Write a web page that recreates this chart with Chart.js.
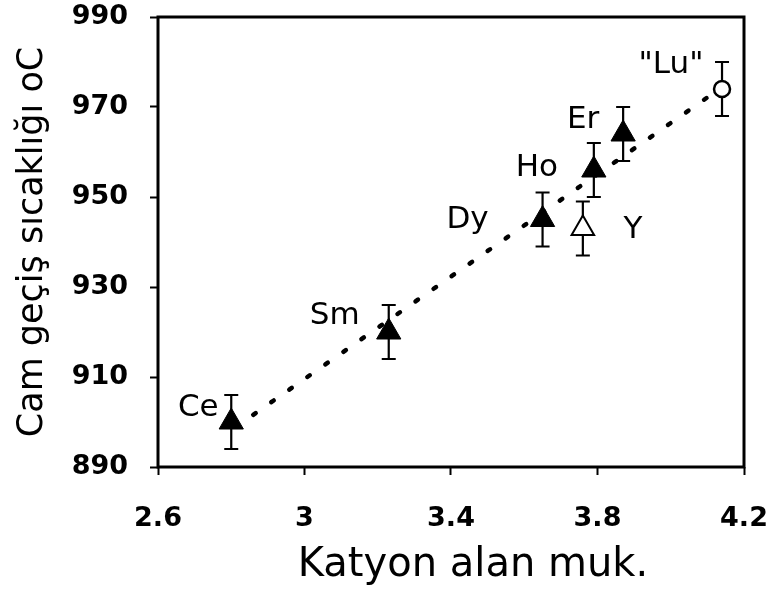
<!DOCTYPE html>
<html>
<head>
<meta charset="utf-8">
<script src="https://cdn.jsdelivr.net/npm/chart.js@4"></script>
<style>
  html, body { margin: 0; padding: 0; background: #fff; }
  #wrap { width: 776px; height: 594px; }
</style>
</head>
<body>
<div id="wrap"><canvas id="myChart"></canvas></div>
<script>
// values
const filledNames = ["Ce", "Sm", "Dy", "Ho", "Er"];
const filledX = [2.80, 3.23, 3.65, 3.79, 3.87];
const filledY = [900, 920, 945, 956, 964];
const filledErr = [6, 6, 6, 6, 6];

const openTriNames = ["Y"];
const openTriX = [3.76];
const openTriY = [943];
const openTriErr = [6];

const circleNames = ['"Lu"'];
const circleX = [4.14];
const circleY = [974];
const circleErr = [6];

const fitX = [2.86, 4.11];
const fitY = [901.6, 972.7];

const xTicks = [2.6, 3, 3.4, 3.8, 4.2];
const yTicks = [890, 910, 930, 950, 970, 990];

const xTitle = "Katyon alan muk.";
const yTitle = "Cam geçiş sıcaklığı oC";

// label placement, px from the marker
const labelOffsets = {
  "Ce": [-33, -14], "Sm": [-54, -16], "Dy": [-75, 0], "Ho": [-57, -2],
  "Er": [-40, -14], "Y": [50, 1], '"Lu"': [-51, -24]
};

const FONT = "'DejaVu Sans', sans-serif";
const toPts = (xs, ys) => xs.map((x, i) => ({ x, y: ys[i] }));

// frame, error bars, point labels, x title
const extras = {
  id: "extras",
  beforeDatasetsDraw(chart) {
    const { ctx, scales: { y } } = chart;
    ctx.save();
    ctx.strokeStyle = "#000";
    ctx.lineWidth = 2.2;
    chart.data.datasets.forEach((ds, di) => {
      if (!ds.errors) return;
      const meta = chart.getDatasetMeta(di);
      meta.data.forEach((pt, i) => {
        const v = ds.data[i].y, e = ds.errors[i];
        const top = y.getPixelForValue(v + e), bot = y.getPixelForValue(v - e);
        ctx.beginPath();
        ctx.moveTo(pt.x, top); ctx.lineTo(pt.x, bot);
        ctx.moveTo(pt.x - 7, top); ctx.lineTo(pt.x + 7, top);
        ctx.moveTo(pt.x - 7, bot); ctx.lineTo(pt.x + 7, bot);
        ctx.stroke();
      });
    });
    ctx.restore();
  },
  afterDatasetsDraw(chart) {
    const { ctx, chartArea: a } = chart;
    ctx.save();
    ctx.fillStyle = "#000";
    ctx.font = "31px " + FONT;
    ctx.textAlign = "center";
    ctx.textBaseline = "middle";
    chart.data.datasets.forEach((ds, di) => {
      if (!ds.names) return;
      const meta = chart.getDatasetMeta(di);
      meta.data.forEach((pt, i) => {
        const name = ds.names[i];
        const off = labelOffsets[name] || [0, 0];
        ctx.fillText(name, pt.x + off[0], pt.y + off[1]);
      });
    });
    ctx.strokeStyle = "#000";
    ctx.lineWidth = 3;
    ctx.strokeRect(a.left, a.top, a.right - a.left, a.bottom - a.top);

    // x title sits a bit right of the axis centre in the original
    ctx.font = "40px " + FONT;
    ctx.textBaseline = "alphabetic";
    ctx.fillText(xTitle, (a.left + a.right) / 2 + 22, 576);
    ctx.restore();
  }
};

const tickGrid = {
  display: true,
  drawOnChartArea: false,
  drawTicks: true,
  tickLength: 8,
  tickColor: "#000",
  tickWidth: 2
};

new Chart(document.getElementById("myChart"), {
  type: "scatter",
  data: {
    datasets: [
      {
        data: toPts(filledX, filledY),
        names: filledNames,
        errors: filledErr,
        pointStyle: "triangle",
        pointRadius: 14,
        backgroundColor: "#000",
        borderColor: "#000",
        borderWidth: 1,
        order: 1
      },
      {
        data: toPts(openTriX, openTriY),
        names: openTriNames,
        errors: openTriErr,
        pointStyle: "triangle",
        pointRadius: 13,
        backgroundColor: "#fff",
        borderColor: "#000",
        borderWidth: 2,
        order: 2
      },
      {
        data: toPts(circleX, circleY),
        names: circleNames,
        errors: circleErr,
        pointStyle: "circle",
        pointRadius: 8,
        backgroundColor: "#fff",
        borderColor: "#000",
        borderWidth: 2.5,
        order: 3
      },
      {
        type: "line",
        data: toPts(fitX, fitY),
        showLine: true,
        pointRadius: 0,
        borderColor: "#000",
        borderWidth: 4.5,
        borderDash: [3, 19],
        borderCapStyle: "round",
        fill: false,
        order: 4
      }
    ]
  },
  options: {
    responsive: true,
    maintainAspectRatio: false,
    animation: false,
    events: [],
    layout: { padding: { left: 0, top: 17, right: 32, bottom: 0 } },
    plugins: {
      legend: { display: false },
      tooltip: { enabled: false }
    },
    scales: {
      x: {
        type: "linear",
        min: 2.6,
        max: 4.2,
        afterBuildTicks: (s) => { s.ticks = xTicks.map(v => ({ value: v })); },
        afterFit: (s) => { s.height = 127; s.paddingLeft = 0; s.paddingRight = 0; },
        grid: tickGrid,
        border: { display: false },
        ticks: {
          color: "#000",
          padding: 28,
          maxRotation: 0,
          font: { family: FONT, size: 27, weight: "bold" },
          callback: (v) => String(v)
        }
      },
      y: {
        type: "linear",
        min: 890,
        max: 990,
        afterBuildTicks: (s) => { s.ticks = yTicks.map(v => ({ value: v })); },
        afterFit: (s) => { s.width = 158; s.paddingTop = 0; s.paddingBottom = 0; },
        grid: tickGrid,
        border: { display: false },
        ticks: {
          color: "#000",
          padding: 22,
          font: { family: FONT, size: 27, weight: "bold" }
        },
        title: {
          display: true,
          text: yTitle,
          color: "#000",
          padding: { top: 12, bottom: 0 },
          font: { family: FONT, size: 35 }
        }
      }
    }
  },
  plugins: [extras]
});
</script>
</body>
</html>
